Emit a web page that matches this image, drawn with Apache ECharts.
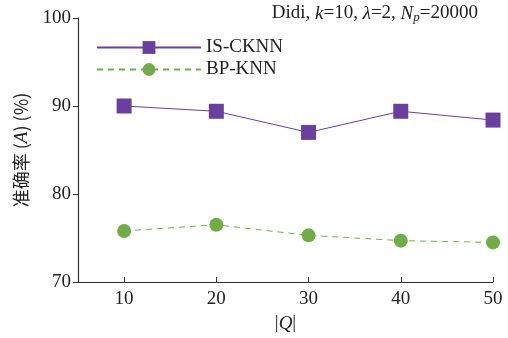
<!DOCTYPE html>
<html>
<head>
<meta charset="utf-8">
<script src="https://cdn.jsdelivr.net/npm/echarts@6/dist/echarts.min.js"></script>
<style>
  html, body { margin: 0; padding: 0; background: #fff; }
  #myLine { width: 508px; height: 338px; }
</style>
</head>
<body>
<div id="myLine"></div>
<script>
// 数据
const qSizes = [10, 20, 30, 40, 50];
const isCknn = [90.0, 89.4, 87.0, 89.4, 88.4];
const bpKnn = [75.8, 76.5, 75.3, 74.7, 74.5];

const serif = "Liberation Serif";
const purple = "#6a3f9e";
const green = "#70ad47";
const fs = 19;

let myLine = echarts.init(document.querySelector("#myLine"));
let option = {
  backgroundColor: "#fff",
  animation: false,
  textStyle: { fontFamily: serif },
  grid: { left: 78, right: 15, top: 18, bottom: 55 },
  legend: {
    orient: "vertical",
    left: 91,
    top: 33,
    itemWidth: 104,
    itemHeight: 16,
    itemGap: 3,
    textStyle: { fontFamily: serif, fontSize: fs, color: "#222" },
    data: ["IS-CKNN", "BP-KNN"]
  },
  graphic: [
    {
      type: "text",
      right: 30,
      top: 4,
      style: {
        rich: {
          n: { fontFamily: serif, fontSize: fs, fill: "#222" },
          i: { fontFamily: serif, fontSize: fs, fontStyle: "italic", fill: "#222" },
          s: { fontFamily: serif, fontSize: 13, fontStyle: "italic", fill: "#222", padding: [9, 0, 0, 0] }
        },
        text: "{n|Didi, }{i|k}{n|=10, }{i|λ}{n|=2, }{i|N}{s|p}{n|=20000}"
      }
    }
  ],
  xAxis: {
    type: "value",
    min: 5,
    max: 50,
    name: "{n||}{i|Q}{n||}",
    nameLocation: "middle",
    nameGap: 32,
    nameTextStyle: {
      rich: {
        n: { fontFamily: serif, fontSize: fs, color: "#222" },
        i: { fontFamily: serif, fontSize: fs, fontStyle: "italic", color: "#222" }
      }
    },
    axisLine: { lineStyle: { color: "#333", width: 1.2 } },
    axisTick: { show: true, inside: true, length: 5, customValues: qSizes, lineStyle: { color: "#333" } },
    axisLabel: { customValues: qSizes, fontFamily: serif, fontSize: fs, color: "#222", margin: 8 },
    splitLine: { show: false }
  },
  yAxis: {
    type: "value",
    min: 70,
    max: 100,
    interval: 10,
    name: "准确率 ({i|A}) (%)",
    nameLocation: "middle",
    nameGap: 47,
    nameRotate: 90,
    nameTextStyle: {
      fontFamily: "Noto Sans CJK SC",
      fontSize: 18,
      color: "#222",
      rich: {
        i: { fontFamily: serif, fontSize: fs, fontStyle: "italic", color: "#222" }
      }
    },
    axisLine: { show: true, lineStyle: { color: "#333", width: 1.2 } },
    axisTick: { show: true, length: 5, lineStyle: { color: "#333" } },
    axisLabel: { fontFamily: serif, fontSize: fs, color: "#222", margin: 7 },
    splitLine: { show: false }
  },
  series: [
    {
      name: "IS-CKNN",
      type: "line",
      data: qSizes.map((q, i) => [q, isCknn[i]]),
      symbol: "rect",
      symbolSize: 15,
      itemStyle: { color: purple },
      lineStyle: { color: purple, width: 1 }
    },
    {
      name: "BP-KNN",
      type: "line",
      data: qSizes.map((q, i) => [q, bpKnn[i]]),
      symbol: "circle",
      symbolSize: 14,
      itemStyle: { color: green },
      lineStyle: { color: green, width: 1, type: [6, 5] }
    }
  ]
};
myLine.setOption(option);
</script>
</body>
</html>
